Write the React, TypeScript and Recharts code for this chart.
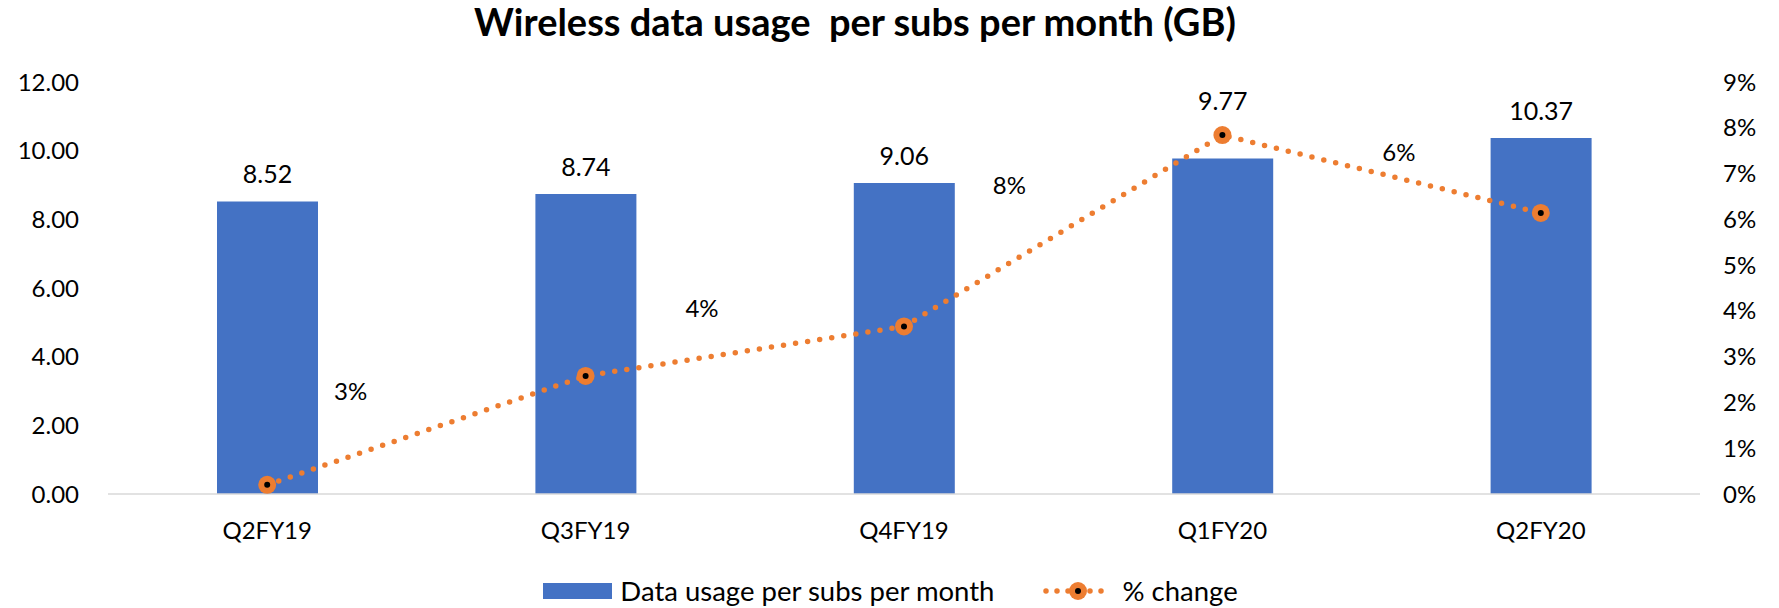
import React from "react";
import {
  Bar,
  ComposedChart,
  LabelList,
  Legend,
  Line,
  XAxis,
  YAxis,
} from "recharts";

const quarters = ["Q2FY19", "Q3FY19", "Q4FY19", "Q1FY20", "Q2FY20"];
const usageGb = [8.52, 8.74, 9.06, 9.77, 10.37];
const pctChange = [0.2, 2.58, 3.66, 7.84, 6.14];
const leftTicks = [0, 2, 4, 6, 8, 10, 12];
const rightTicks = [0, 1, 2, 3, 4, 5, 6, 7, 8, 9];

const chartData = quarters.map((q, i) => ({
  quarter: q,
  usage: usageGb[i],
  change: pctChange[i],
}));

const BLUE = "#4472C4";
const ORANGE = "#ED7D31";
const FONT = "Lato, 'Open Sans', sans-serif";

// the % labels were dragged around by hand in the original, so nudge them
const pctLabelShift = [null, [-235, 15], [-202, -19], [-213, 49], [-142, -61]];
// 9.77 sits higher so it clears the marker
const barLabelLift = [0, 0, 0, 31, 0];

const Marker = (props: any) => {
  const { cx, cy, index } = props;
  if (cx == null || cy == null) return null;
  return (
    <g key={`m-${index}`}>
      <circle cx={cx} cy={cy} r={9} fill={ORANGE} />
      <circle cx={cx} cy={cy} r={3} fill="#000" />
    </g>
  );
};

const PctLabel = (props: any) => {
  const { x, y, value, index } = props;
  const shift = pctLabelShift[index];
  if (!shift) return null;
  return (
    <text
      x={x + shift[0]}
      y={y + shift[1]}
      textAnchor="middle"
      dominantBaseline="central"
      fontFamily={FONT}
      fontSize={24}
      fill="#000"
    >
      {`${Math.round(value)}%`}
    </text>
  );
};

const BarValueLabel = (props: any) => {
  const { x, y, width, value, index } = props;
  return (
    <text
      x={x + width / 2}
      y={y - 18 - (barLabelLift[index] || 0)}
      textAnchor="middle"
      fontFamily={FONT}
      fontSize={25}
      fill="#000"
    >
      {Number(value).toFixed(2)}
    </text>
  );
};

const LegendBox = () => (
  <div
    style={{
      display: "flex",
      justifyContent: "center",
      alignItems: "center",
      height: 26,
      fontFamily: FONT,
      fontSize: 27.5,
      lineHeight: "26px",
      color: "#000",
      paddingLeft: 2,
    }}
  >
    <span style={{ width: 69, height: 16, background: BLUE, marginRight: 8 }} />
    <span>Data usage per subs per month</span>
    <svg width={72} height={22} style={{ marginLeft: 48, marginRight: 8 }}>
      <line
        x1={4}
        y1={11}
        x2={68}
        y2={11}
        stroke={ORANGE}
        strokeWidth={5.5}
        strokeDasharray="0 11"
        strokeLinecap="round"
      />
      <circle cx={36} cy={11} r={9} fill={ORANGE} />
      <circle cx={36} cy={11} r={3} fill="#000" />
    </svg>
    <span>% change</span>
  </div>
);

export default function App() {
  return (
    <div style={{ position: "absolute", left: 0, top: 0, width: 1779, height: 608, background: "#fff" }}>
      <div
        style={{
          position: "absolute",
          top: -1,
          left: 355,
          width: 1000,
          textAlign: "center",
          fontFamily: FONT,
          fontWeight: 700,
          fontSize: 38,
          lineHeight: "44px",
          color: "#000",
        }}
      >
        Wireless data usage&nbsp; per subs per month (GB)
      </div>
      <ComposedChart
        width={1779}
        height={608}
        data={chartData}
        margin={{ top: 82, right: 0, left: 0, bottom: 4 }}
      >
        <XAxis
          dataKey="quarter"
          height={84}
          axisLine={{ stroke: "#D9D9D9", strokeWidth: 1.5 }}
          tickLine={false}
          tickSize={0}
          tickMargin={28}
          tick={{ fontFamily: FONT, fontSize: 24, fill: "#000" }}
        />
        <YAxis
          yAxisId="left"
          width={108}
          domain={[0, 12]}
          ticks={leftTicks}
          axisLine={false}
          tickLine={false}
          tickSize={0}
          tickMargin={29}
          tickFormatter={(v: number) => v.toFixed(2)}
          tick={{ fontFamily: FONT, fontSize: 24, fill: "#000" }}
        />
        <YAxis
          yAxisId="right"
          orientation="right"
          width={79}
          domain={[0, 9]}
          ticks={rightTicks}
          axisLine={false}
          tickLine={false}
          tickSize={0}
          tickMargin={23}
          tickFormatter={(v: number) => `${v}%`}
          tick={{ fontFamily: FONT, fontSize: 24, fill: "#000", textAnchor: "start" }}
        />
        <Legend verticalAlign="bottom" height={26} content={() => <LegendBox />} />
        <Bar
          yAxisId="left"
          dataKey="usage"
          name="Data usage per subs per month"
          fill={BLUE}
          barSize={101}
          isAnimationActive={false}
        >
          <LabelList dataKey="usage" content={<BarValueLabel />} />
        </Bar>
        <Line
          yAxisId="right"
          dataKey="change"
          name="% change"
          type="linear"
          stroke={ORANGE}
          strokeWidth={5.5}
          strokeDasharray="0 12.2"
          strokeLinecap="round"
          dot={<Marker />}
          activeDot={false}
          label={<PctLabel />}
          isAnimationActive={false}
        />
      </ComposedChart>
    </div>
  );
}
